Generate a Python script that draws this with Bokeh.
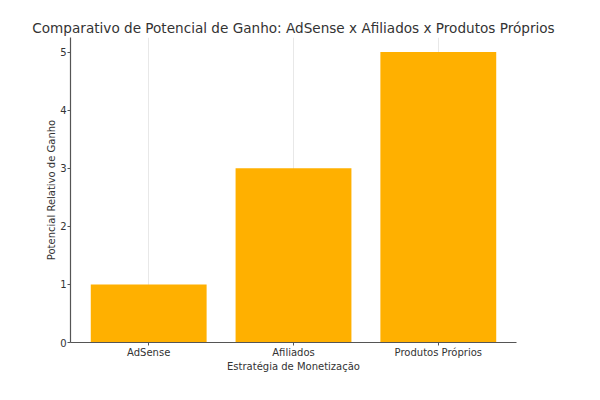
from bokeh.plotting import figure
from bokeh.models import Range1d, FixedTicker
from bokeh.embed import file_html
from bokeh.resources import INLINE

categories = ["AdSense", "Afiliados", "Produtos Próprios"]
values = [1, 3, 5]
y_ticks = [0, 1, 2, 3, 4, 5]

title_text = "Comparativo de Potencial de Ganho: AdSense x Afiliados x Produtos Próprios"
FONT = "DejaVu Sans"

p = figure(width=584, height=384, output_backend="svg", toolbar_location=None,
           x_range=Range1d(-0.54, 2.54), y_range=Range1d(0, 5.25),
           min_border_left=70, min_border_right=68, min_border_top=37, min_border_bottom=42)

xs = list(range(len(categories)))
p.vbar(x=xs, top=values, width=0.8, bottom=0, fill_color="#FFB000", line_color=None)

p.title.text = title_text
p.title.align = "center"
p.title.text_font = FONT
p.title.text_font_size = "13.6px"
p.title.text_font_style = "normal"
p.title.text_color = "#333333"
p.title.offset = 0
p.title.standoff = 4

p.xaxis.ticker = FixedTicker(ticks=xs)
p.xaxis.major_label_overrides = {i: c for i, c in enumerate(categories)}
p.yaxis.ticker = FixedTicker(ticks=y_ticks)
p.xaxis.axis_label = "Estratégia de Monetização"
p.yaxis.axis_label = "Potencial Relativo de Ganho"

for ax in (p.xaxis[0], p.yaxis[0]):
    ax.axis_label_text_font = FONT
    ax.axis_label_text_font_size = "10px"
    ax.axis_label_text_font_style = "normal"
    ax.axis_label_text_color = "#333333"
    ax.axis_label_standoff = 0
    ax.major_label_text_font = FONT
    ax.major_label_text_font_size = "10px"
    ax.major_label_text_color = "#333333"
    ax.axis_line_color = "#555555"
    ax.axis_line_width = 1.2
    ax.major_tick_line_color = "#555555"
    ax.major_tick_out = 3
    ax.major_tick_in = 0
    ax.minor_tick_line_color = None
    ax.major_label_standoff = 1

p.xgrid.ticker = FixedTicker(ticks=xs)
p.xgrid.grid_line_color = "#e8e8e8"
p.ygrid.grid_line_color = None
p.outline_line_color = None
p.background_fill_color = "white"
p.border_fill_color = "white"

open("out.html", "w").write(file_html(p, INLINE))
